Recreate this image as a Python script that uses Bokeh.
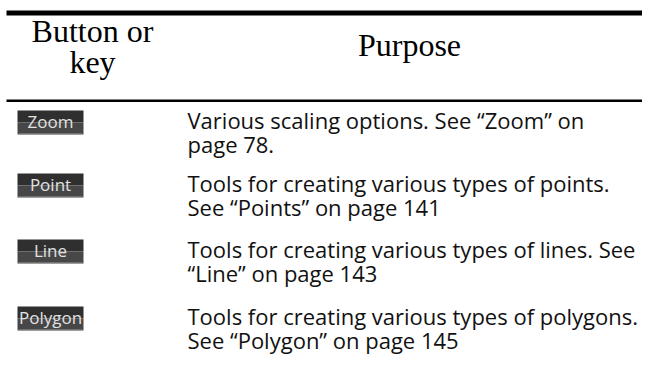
from bokeh.plotting import figure
from bokeh.models import Range1d
from bokeh.embed import file_html
from bokeh.resources import INLINE
from bokeh.core.properties import value

# ---- data ----
header_left = ["Button or", "key"]
header_right = ["Purpose"]
buttons = ["Zoom", "Point", "Line", "Polygon"]
desc_line1 = [
    "Various scaling options. See \u201cZoom\u201d on",
    "Tools for creating various types of points.",
    "Tools for creating various types of lines. See",
    "Tools for creating various types of polygons.",
]
desc_line2 = [
    "page 78.",
    "See \u201cPoints\u201d on page 141",
    "\u201cLine\u201d on page 143",
    "See \u201cPolygon\u201d on page 145",
]

# ---- layout (reference pixel coords) ----
row_y = [122, 185, 251, 318]
line_gap = 24
text_shift = -3

p = figure(width=642, height=376, output_backend="svg", toolbar_location=None,
           x_range=Range1d(0, 642), y_range=Range1d(376, 0),
           min_border=0, min_border_left=0, min_border_right=0,
           min_border_top=0, min_border_bottom=0)
p.axis.visible = False
p.grid.visible = False
p.outline_line_color = None
p.background_fill_color = "white"
p.border_fill_color = "white"

# rules
p.quad(left=[6], right=[650], top=[10], bottom=[15], fill_color="black", line_color=None)
p.quad(left=[6], right=[650], top=[99], bottom=[101.5], fill_color="black", line_color=None)

# header
serif = value("Liberation Serif")
p.text(x=[92, 92], y=[30, 61], text=header_left, text_font=serif, text_font_size="32px",
       text_align="center", text_baseline="middle", text_color="black")
p.text(x=[409], y=[44], text=header_right, text_font=serif, text_font_size="32px",
       text_align="center", text_baseline="middle", text_color="black")

# buttons
bh = 24
tops = [y - bh / 2 for y in row_y]
mids = [y for y in row_y]
bots = [y + bh / 2 for y in row_y]
p.quad(left=[17] * 4, right=[83] * 4, top=tops, bottom=mids, fill_color="#2f2f2f", line_color=None)
p.quad(left=[17] * 4, right=[83] * 4, top=mids, bottom=bots, fill_color="#474747", line_color=None)
p.segment(x0=[18] * 4, x1=[82] * 4, y0=[b - 0.5 for b in bots], y1=[b - 0.5 for b in bots],
          line_color="#9a9a9a", line_width=1)
p.text(x=[50] * 4, y=[y - 1 for y in row_y], text=buttons, text_font=value("Open Sans"),
       text_font_size="17px", text_align="center", text_baseline="middle", text_color="#e2e2e2")

# descriptions
sans = value("Open Sans")
p.text(x=[187] * 4, y=[y + text_shift for y in row_y], text=desc_line1, text_font=sans,
       text_font_size="22px", text_align="left", text_baseline="middle", text_color="#111111")
p.text(x=[187] * 4, y=[y + text_shift + line_gap for y in row_y], text=desc_line2, text_font=sans,
       text_font_size="22px", text_align="left", text_baseline="middle", text_color="#111111")

open("out.html", "w").write(file_html(p, INLINE))
